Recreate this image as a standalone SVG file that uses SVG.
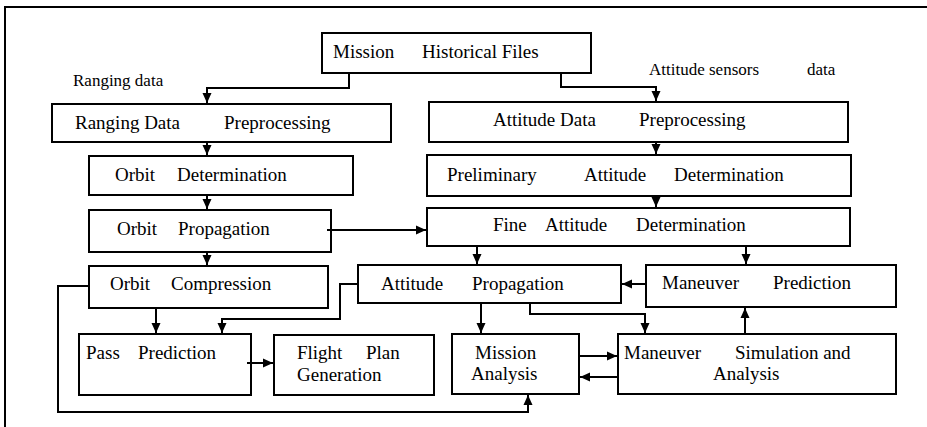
<svg xmlns="http://www.w3.org/2000/svg" width="927" height="427" viewBox="0 0 927 427">
<style>
.box{fill:#fff;stroke:#000;stroke-width:2}
.t{font-size:19px;fill:#000;font-family:"Liberation Serif","Times New Roman",serif}
.lbl{font-size:17px;fill:#000;font-family:"Liberation Serif","Times New Roman",serif}
.c{fill:none;stroke:#000;stroke-width:2}
</style>
<defs>
<marker id="ah" markerUnits="userSpaceOnUse" markerWidth="10" markerHeight="10" refX="10" refY="5" orient="auto">
<path d="M0,0.5 L10,5 L0,9.5 z" fill="#000"/>
</marker>
</defs>
<rect width="927" height="427" fill="#fff"/>
<g id="frame">
<line x1="5" y1="7" x2="927" y2="7" stroke="#000" stroke-width="2"/>
<line x1="5" y1="6" x2="5" y2="427" stroke="#000" stroke-width="2"/>
</g>
<g id="labels">
<text class="lbl" x="73" y="86">Ranging data</text>
<text class="lbl" x="649" y="75">Attitude sensors</text>
<text class="lbl" x="807" y="75">data</text>
</g>
<g id="mission-files">
<rect class="box" x="322" y="33" width="269" height="40"/>
<text class="t" x="333" y="58">Mission</text>
<text class="t" x="422" y="58">Historical Files</text>
</g>
<g id="ranging-pre">
<rect class="box" x="52" y="104" width="339" height="38"/>
<text class="t" x="75" y="129">Ranging Data</text>
<text class="t" x="224" y="129">Preprocessing</text>
</g>
<g id="orbit-det">
<rect class="box" x="89" y="156" width="264" height="39"/>
<text class="t" x="115" y="181">Orbit</text>
<text class="t" x="177" y="181">Determination</text>
</g>
<g id="orbit-prop">
<rect class="box" x="89" y="210" width="242" height="42"/>
<text class="t" x="117" y="235">Orbit</text>
<text class="t" x="178" y="235">Propagation</text>
</g>
<g id="orbit-comp">
<rect class="box" x="89" y="266" width="239" height="42"/>
<text class="t" x="110" y="290">Orbit</text>
<text class="t" x="171" y="290">Compression</text>
</g>
<g id="pass-pred">
<rect class="box" x="79" y="334" width="172" height="61"/>
<text class="t" x="86" y="359">Pass</text>
<text class="t" x="138" y="359">Prediction</text>
</g>
<g id="flight-plan">
<rect class="box" x="274" y="335" width="160" height="60"/>
<text class="t" x="297" y="359">Flight</text>
<text class="t" x="366" y="359">Plan</text>
<text class="t" x="297" y="381">Generation</text>
</g>
<g id="att-pre">
<rect class="box" x="429" y="102" width="419" height="40"/>
<text class="t" x="493" y="126">Attitude Data</text>
<text class="t" x="639" y="126">Preprocessing</text>
</g>
<g id="prelim-att">
<rect class="box" x="427" y="155" width="424" height="41"/>
<text class="t" x="447" y="181">Preliminary</text>
<text class="t" x="584" y="181">Attitude</text>
<text class="t" x="674" y="181">Determination</text>
</g>
<g id="fine-att">
<rect class="box" x="427" y="208" width="423" height="38"/>
<text class="t" x="493" y="231">Fine</text>
<text class="t" x="545" y="231">Attitude</text>
<text class="t" x="636" y="231">Determination</text>
</g>
<g id="att-prop">
<rect class="box" x="358" y="265" width="263" height="38"/>
<text class="t" x="381" y="290">Attitude</text>
<text class="t" x="472" y="290">Propagation</text>
</g>
<g id="man-pred">
<rect class="box" x="646" y="265" width="250" height="42"/>
<text class="t" x="662" y="289">Maneuver</text>
<text class="t" x="773" y="289">Prediction</text>
</g>
<g id="mission-analysis">
<rect class="box" x="452" y="334" width="127" height="60"/>
<text class="t" x="475" y="359">Mission</text>
<text class="t" x="471" y="380">Analysis</text>
</g>
<g id="man-sim">
<rect class="box" x="618" y="334" width="278" height="60"/>
<text class="t" x="624" y="359">Maneuver</text>
<text class="t" x="735" y="359">Simulation and</text>
<text class="t" x="713" y="380">Analysis</text>
</g>
<g id="connectors">
<path class="c" d="M349,73 V88 H207 V103" marker-end="url(#ah)"/>
<path class="c" d="M561,73 V87 H656 V101" marker-end="url(#ah)"/>
<path class="c" d="M207,142 V155" marker-end="url(#ah)"/>
<path class="c" d="M207,195 V209" marker-end="url(#ah)"/>
<path class="c" d="M207,252 V265" marker-end="url(#ah)"/>
<path class="c" d="M656,142 V154" marker-end="url(#ah)"/>
<path class="c" d="M656,196 V207" marker-end="url(#ah)"/>
<path class="c" d="M327,230 H426" marker-end="url(#ah)"/>
<path class="c" d="M477,246 V264" marker-end="url(#ah)"/>
<path class="c" d="M746,246 V264" marker-end="url(#ah)"/>
<path class="c" d="M646,284 H622" marker-end="url(#ah)"/>
<path class="c" d="M156,308 V333" marker-end="url(#ah)"/>
<path class="c" d="M358,284 H340 V319 H222 V333" marker-end="url(#ah)"/>
<path class="c" d="M481,303 V333" marker-end="url(#ah)"/>
<path class="c" d="M530,303 V314 H645 V333" marker-end="url(#ah)"/>
<path class="c" d="M745,334 V308" marker-end="url(#ah)"/>
<path class="c" d="M247,363 H273" marker-end="url(#ah)"/>
<path class="c" d="M579,356 H617" marker-end="url(#ah)"/>
<path class="c" d="M618,377 H580" marker-end="url(#ah)"/>
<path class="c" d="M89,286 H58 V412 H528 V395" marker-end="url(#ah)"/>
</g>
</svg>
